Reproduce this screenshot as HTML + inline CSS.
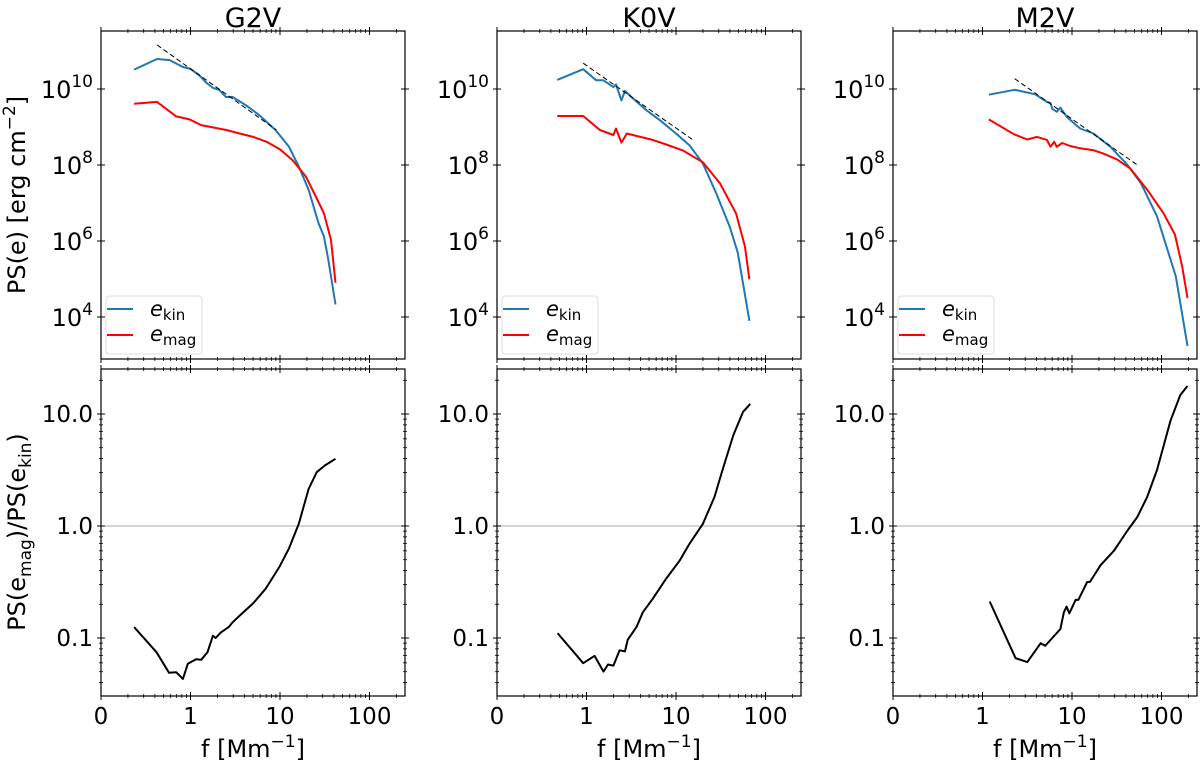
<!DOCTYPE html>
<html><head><meta charset="utf-8"><style>
html,body{margin:0;padding:0;background:#fff;}
svg{display:block;font-family:"DejaVu Sans","Liberation Sans",sans-serif;}
</style></head><body>
<svg id="fig" width="1200" height="761" viewBox="0 0 1200 761" xmlns="http://www.w3.org/2000/svg"></svg>
<script>
// ---- data (log10 of frequency [Mm^-1] and log10 of values) ----
const starNames = ["G2V","K0V","M2V"];
const g2vKinLogF = [-0.63,-0.374,-0.233,-0.085,0.0,0.1,0.17,0.25,0.32,0.396,0.47,0.62,0.77,0.95,1.1,1.21,1.32,1.43,1.49,1.54,1.62];
const g2vKinLogE = [10.51,10.79,10.76,10.58,10.53,10.36,10.18,10.03,9.98,9.79,9.79,9.57,9.31,8.92,8.48,7.96,7.35,6.47,6.12,5.51,4.33];
const g2vMagLogF = [-0.63,-0.374,-0.16,-0.01,0.12,0.25,0.4,0.55,0.7,0.85,1.0,1.14,1.29,1.4,1.49,1.57,1.62];
const g2vMagLogE = [9.61,9.66,9.28,9.2,9.05,8.99,8.92,8.83,8.74,8.61,8.41,8.13,7.69,7.17,6.73,6.03,4.9];
const g2vFitLogF = [-0.374,0.96];
const g2vFitLogE = [11.16,8.92];
const g2vRatioLogF = [-0.63,-0.38,-0.24,-0.16,-0.085,-0.03,0.063,0.12,0.19,0.25,0.28,0.34,0.43,0.47,0.55,0.7,0.84,0.99,1.1,1.21,1.32,1.41,1.5,1.62];
const g2vRatioLog = [-0.903,-1.127,-1.31,-1.305,-1.365,-1.23,-1.19,-1.195,-1.127,-0.98,-1.0,-0.95,-0.9,-0.86,-0.8,-0.69,-0.56,-0.37,-0.2,0.02,0.33,0.48,0.54,0.6];

const k0vKinLogF = [-0.327,-0.037,0.11,0.19,0.3,0.33,0.39,0.43,0.52,0.67,0.82,1.0,1.15,1.3,1.45,1.6,1.69,1.82];
const k0vKinLogE = [10.24,10.52,10.23,10.23,10.05,10.12,9.7,9.95,9.75,9.44,9.18,8.83,8.52,8.04,7.25,6.38,5.69,3.9];
const k0vMagLogF = [-0.327,-0.037,0.15,0.3,0.33,0.39,0.45,0.6,0.74,0.89,1.08,1.3,1.49,1.67,1.77,1.82];
const k0vMagLogE = [9.29,9.29,8.92,8.79,8.96,8.59,8.83,8.74,8.66,8.54,8.38,8.07,7.52,6.73,5.86,4.99];
const k0vFitLogF = [-0.037,1.19];
const k0vFitLogE = [10.68,8.66];
const k0vRatioLogF = [-0.323,-0.037,0.09,0.19,0.24,0.3,0.37,0.43,0.46,0.56,0.63,0.74,0.89,1.04,1.15,1.3,1.43,1.52,1.64,1.75,1.83];
const k0vRatioLog = [-0.957,-1.225,-1.16,-1.3,-1.237,-1.246,-1.11,-1.12,-1.016,-0.9,-0.77,-0.65,-0.47,-0.31,-0.16,0.02,0.26,0.5,0.81,1.02,1.09];

const m2vKinLogF = [0.07,0.36,0.59,0.72,0.76,0.78,0.83,0.87,0.94,1.09,1.24,1.43,1.62,1.77,1.95,2.16,2.29];
const m2vKinLogE = [9.85,9.98,9.86,9.66,9.63,9.48,9.4,9.51,9.27,8.96,8.83,8.48,8.0,7.52,6.65,5.07,3.24];
const m2vMagLogF = [0.07,0.35,0.5,0.61,0.72,0.76,0.8,0.83,0.89,0.98,1.09,1.24,1.35,1.5,1.65,1.84,2.02,2.15,2.23,2.29];
const m2vMagLogE = [9.2,8.81,8.67,8.74,8.66,8.48,8.61,8.48,8.58,8.5,8.44,8.39,8.3,8.15,7.91,7.35,6.74,6.17,5.34,4.5];
const m2vFitLogF = [0.36,1.73];
const m2vFitLogE = [10.27,8.0];
const m2vRatioLogF = [0.08,0.37,0.5,0.65,0.7,0.78,0.87,0.91,0.94,0.97,1.04,1.07,1.17,1.2,1.32,1.47,1.62,1.73,1.84,1.95,2.1,2.21,2.29];
const m2vRatioLog = [-0.674,-1.18,-1.215,-1.046,-1.07,-1.0,-0.92,-0.77,-0.72,-0.78,-0.66,-0.66,-0.5,-0.5,-0.35,-0.22,-0.04,0.08,0.26,0.5,0.94,1.17,1.25];

const xTickLabels = ["0","1","10","100"];
const topTickExps = ["4","6","8","10"];
const bottomTickLabels = ["0.1","1.0","10.0"];

const panels = [
 {kinF:g2vKinLogF,kinE:g2vKinLogE,magF:g2vMagLogF,magE:g2vMagLogE,fitF:g2vFitLogF,fitE:g2vFitLogE,rF:g2vRatioLogF,rV:g2vRatioLog},
 {kinF:k0vKinLogF,kinE:k0vKinLogE,magF:k0vMagLogF,magE:k0vMagLogE,fitF:k0vFitLogF,fitE:k0vFitLogE,rF:k0vRatioLogF,rV:k0vRatioLog},
 {kinF:m2vKinLogF,kinE:m2vKinLogE,magF:m2vMagLogF,magE:m2vMagLogE,fitF:m2vFitLogF,fitE:m2vFitLogE,rF:m2vRatioLogF,rV:m2vRatioLog}
];

// ---- layout ----
const lefts = [101,497,893];
const W = 304, DEC = 89.5;
const TOP = {y0:31, y1:359}, BOT = {y0:369, y1:696};
const NS = "http://www.w3.org/2000/svg";
const svg = document.getElementById('fig');
function mk(tag, attrs, parent){
  const e = document.createElementNS(NS, tag);
  for (const k in attrs) e.setAttribute(k, attrs[k]);
  (parent||svg).appendChild(e); return e;
}
function xs(left, lf){ return left + (lf + 1) * DEC; }
function ysTop(le){ return 89 + (10 - le) * 38; }
function ysBot(lv){ return 526 - lv * 112; }
function pathOf(fx, fy, F, V){ return F.map((f,i)=>(i?'L':'M')+fx(f).toFixed(1)+','+fy(V[i]).toFixed(1)).join(' '); }

function ticks(g, left, y0, y1, isTop){
  const right = left + W;
  for (let d=-1; d<=2; d++){
    for (let m=1; m<=9; m++){
      const lf = d + Math.log10(m);
      const x = xs(left, lf);
      if (x > right+0.5) continue;
      const L = m===1 ? 4 : 2;
      mk('line',{x1:x,x2:x,y1:y1-L,y2:y1+L,stroke:'#000','stroke-width':m===1?1:0.8},g);
      mk('line',{x1:x,x2:x,y1:y0-L,y2:y0+L,stroke:'#000','stroke-width':m===1?1:0.8},g);
    }
  }
  if (isTop){
    for (let e=4; e<=10; e+=2){
      const y = ysTop(e);
      mk('line',{x1:left-4,x2:left+4,y1:y,y2:y,stroke:'#000'},g);
      mk('line',{x1:right-4,x2:right+4,y1:y,y2:y,stroke:'#000'},g);
    }
  } else {
    for (let d=-2; d<=1; d++){
      for (let m=1; m<=9; m++){
        const lv = d + Math.log10(m);
        const y = ysBot(lv);
        if (y < y0-0.5 || y > y1+0.5) continue;
        const L = m===1 ? 4 : 2;
        mk('line',{x1:left-L,x2:left+L,y1:y,y2:y,stroke:'#000','stroke-width':m===1?1:0.8},g);
        mk('line',{x1:right-L,x2:right+L,y1:y,y2:y,stroke:'#000','stroke-width':m===1?1:0.8},g);
      }
    }
  }
}

panels.forEach((p, i) => {
  const left = lefts[i];
  const fx = f => xs(left, f);
  const t = mk('text',{x:left+W/2,y:27,'text-anchor':'middle','font-size':27});
  t.textContent = starNames[i];
  
  

  // ---- top panel ----
  const gt = mk('g',{});
  
  
  const kin = mk('path',{d:pathOf(fx, ysTop, p.kinF, p.kinE),fill:'none',stroke:'#1f77b4','stroke-width':2,'stroke-linejoin':'round'},gt);
  
  
  const mag = mk('path',{d:pathOf(fx, ysTop, p.magF, p.magE),fill:'none',stroke:'#ff0000','stroke-width':2,'stroke-linejoin':'round'},gt);
  
  
  const fit = mk('path',{d:pathOf(fx, ysTop, p.fitF, p.fitE),fill:'none',stroke:'#000','stroke-width':1,'stroke-dasharray':'5,3'},gt);
  
  
  mk('rect',{x:left,y:TOP.y0,width:W,height:TOP.y1-TOP.y0,fill:'none',stroke:'#000','stroke-width':1.2},gt);
  ticks(gt, left, TOP.y0, TOP.y1, true);
  topTickExps.forEach(e => {
    const y = ysTop(+e);
    const tx = mk('text',{x:left-8,y:y+9,'text-anchor':'end','font-size':24},gt);
    tx.innerHTML = '10<tspan dy="-11" font-size="17">' + e + '</tspan>';
    
    
  });
  const lg = mk('g',{},gt);
  
  
  mk('rect',{x:left+5,y:296,width:96,height:58,rx:3,fill:'#fff',stroke:'#ddd'},lg);
  mk('line',{x1:left+6,x2:left+32,y1:309,y2:309,stroke:'#1f77b4','stroke-width':2},lg);
  mk('line',{x1:left+6,x2:left+32,y1:335,y2:335,stroke:'#ff0000','stroke-width':2},lg);
  const l1 = mk('text',{x:left+49,y:316,'font-size':21},lg);
  l1.innerHTML = '<tspan font-style="italic">e</tspan><tspan dy="4" font-size="15">kin</tspan>';
  
  
  const l2 = mk('text',{x:left+49,y:341,'font-size':21},lg);
  l2.innerHTML = '<tspan font-style="italic">e</tspan><tspan dy="4" font-size="15">mag</tspan>';
  
  

  // ---- bottom panel ----
  const gb = mk('g',{});
  
  
  mk('line',{x1:left,x2:left+W,y1:ysBot(0),y2:ysBot(0),stroke:'#aaa','stroke-width':1},gb);
  const r = mk('path',{d:pathOf(fx, ysBot, p.rF, p.rV),fill:'none',stroke:'#000','stroke-width':2,'stroke-linejoin':'round'},gb);
  
  
  mk('rect',{x:left,y:BOT.y0,width:W,height:BOT.y1-BOT.y0,fill:'none',stroke:'#000','stroke-width':1.2},gb);
  ticks(gb, left, BOT.y0, BOT.y1, false);
  bottomTickLabels.forEach((lab, k) => {
    const tx = mk('text',{x:left-8,y:ysBot(k-1)+8,'text-anchor':'end','font-size':23},gb);
    tx.textContent = lab;
    
    
  });
  xTickLabels.forEach((lab, k) => {
    const tx = mk('text',{x:xs(left, k-1),y:724,'text-anchor':'middle','font-size':23},gb);
    tx.textContent = lab;
    
    
  });
  const xl = mk('text',{x:left+W/2,y:757,'text-anchor':'middle','font-size':24},gb);
  xl.innerHTML = 'f [Mm<tspan dy="-10" font-size="17">−1</tspan><tspan dy="10">]</tspan>';
  
  
});

const yl1 = mk('text',{x:0,y:0,'text-anchor':'middle','font-size':24,transform:'translate(25,195) rotate(-90)'});
yl1.innerHTML = 'PS(e) [erg cm<tspan dy="-10" font-size="17">−2</tspan><tspan dy="10">]</tspan>';


const yl2 = mk('text',{x:0,y:0,'text-anchor':'middle','font-size':24,transform:'translate(25,532) rotate(-90)'});
yl2.innerHTML = 'PS(e<tspan dy="6" font-size="17">mag</tspan><tspan dy="-6">)/PS(e</tspan><tspan dy="6" font-size="17">kin</tspan><tspan dy="-6">)</tspan>';


</script>
</body></html>
